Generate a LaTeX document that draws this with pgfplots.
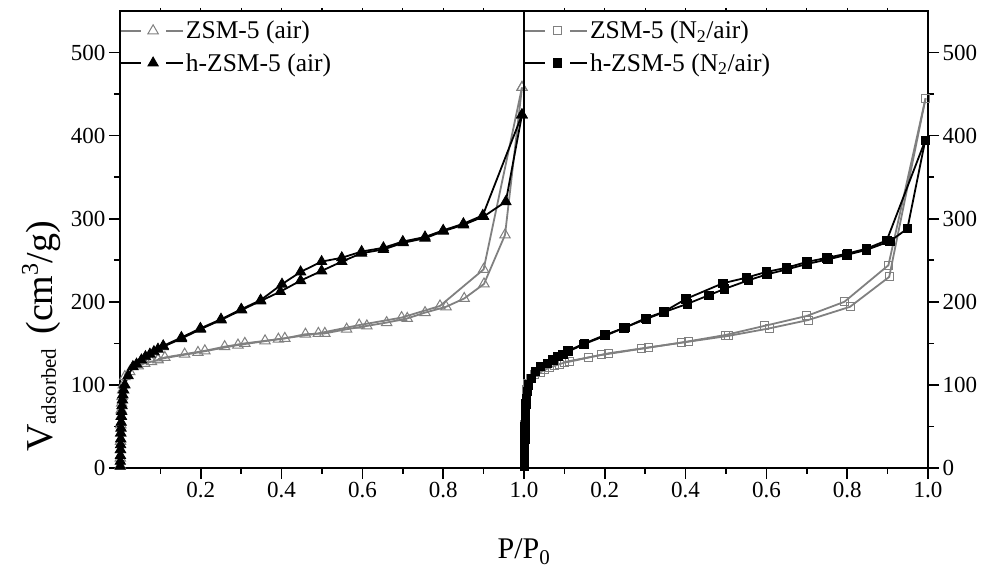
\documentclass[border=0pt]{standalone}
\usepackage{fontspec}
\setmainfont{Liberation Serif}
\usepackage{pgfplots}
\pgfplotsset{compat=1.18}
\definecolor{zgray}{RGB}{128,128,128}

\begin{document}
\begin{tikzpicture}[x=1pt,y=1pt]
\useasboundingbox (0,0) rectangle (989,572);
\pgfplotsset{
  myaxis/.style={
    scale only axis, width=404pt, height=457pt,
    anchor=south west,
    xmin=0, xmax=1, ymin=0, ymax=550,
    clip=false,
    axis line style={line width=2pt},
    every tick/.style={line width=1.6pt, black},
    tick align=outside,
    major tick length=11pt, minor tick length=6pt,
    xtick={0.2,0.4,0.6,0.8,1.0},
    minor xtick={0.1,0.3,0.5,0.7,0.9},
    ytick={0,100,200,300,400,500},
    minor ytick={50,150,250,350,450},
    /pgf/number format/assume math mode=true,
    tick label style={font=\fontsize{23}{27}\selectfont},
    x tick label style={/pgf/number format/.cd, fixed, fixed zerofill, precision=1},
    y tick label style={/pgf/number format/.cd, fixed, precision=0},
    xtick pos=left,
    legend cell align=left,
    legend style={at={(0,1)}, anchor=north west, yshift=-6pt, draw=none, fill=none,
      inner xsep=0pt, inner ysep=2pt,
      font=\fontsize{25.5}{30}\selectfont, row sep=9pt},
    legend image code/.code={
      \draw[##1, mark=none] (0pt,0pt) -- (20pt,0pt) (45pt,0pt) -- (62pt,0pt);
      \draw[##1, only marks] plot coordinates {(32pt,0pt)};
    },
  },
  topticks/.style={
    scale only axis, width=404pt, height=457pt,
    anchor=south west,
    xmin=0, xmax=1, ymin=0, ymax=550,
    axis x line*=top, axis y line=none,
    axis line style={line width=2pt},
    xtick={0.1,0.2,0.3,0.4,0.5,0.6,0.7,0.8,0.9}, xticklabels={},
    every tick/.style={line width=1.2pt, black},
    tick align=outside, major tick length=3pt,
  },
  gs/.style={color=zgray, line width=1.8pt, mark options={solid, fill=white, draw=zgray, line width=1pt}},
  bs/.style={color=black, line width=1.8pt, mark options={solid, fill=black, draw=black, line width=0.8pt}},
}

% ---------------- left panel ----------------
\begin{axis}[topticks, at={(120pt,104pt)}]
\end{axis}
\begin{axis}[myaxis, at={(120pt,104pt)}, ytick pos=left]
% ZSM-5 (air) adsorption
\addplot[gs, mark=triangle, mark size=6pt] coordinates {
(0.0005,3)(0.0008,12)(0.001,22)(0.0013,32)(0.0016,42)(0.002,52)(0.0025,62)(0.003,70)(0.004,78)(0.005,86)(0.0065,94)(0.008,100)(0.012,110)
(0.024,116)(0.045,123)(0.061,126)(0.078,128)(0.094,130)(0.111,133)(0.16,137)(0.21,141)(0.259,146)(0.309,150)(0.359,153)(0.408,156)
(0.459,161)(0.507,162)(0.561,167)(0.611,171)(0.66,175)(0.711,180)(0.755,187)(0.807,194)(0.852,204)(0.901,221.5)(0.953,280.5)(0.995,458)};
\addlegendentry{ZSM-5 (air)}
% ZSM-5 (air) desorption
\addplot[gs, mark=triangle, mark size=6pt, forget plot] coordinates {
(0.995,458)(0.90,239)(0.792,195)(0.697,181)(0.592,172)(0.491,162)(0.392,155)(0.292,148)(0.193,139)(0.094,131)};
% h-ZSM-5 (air) adsorption
\addplot[bs, mark=triangle*, mark size=6pt] coordinates {
(0.0005,2)(0.0008,8)(0.001,15)(0.0012,22)(0.0015,28)(0.0018,35)(0.002,42)(0.0025,48)(0.003,55)(0.0035,62)(0.004,68)(0.005,75)(0.006,82)(0.007,88)(0.009,94)(0.012,100)
(0.02,111)(0.032,122)(0.041,125)(0.053,130)(0.063,134)(0.074,137)(0.084,140)(0.094,143)(0.107,146)(0.152,155.7)(0.199,167)(0.250,178.2)
(0.301,190.2)(0.348,201)(0.397,212.3)(0.447,225.5)(0.499,237.2)(0.549,248.4)(0.598,258.5)(0.652,263)(0.701,271)(0.755,276.5)(0.80,285)
(0.85,292.6)(0.90,302.6)(0.955,320.6)(0.995,425)};
\addlegendentry{h-ZSM-5 (air)}
% h-ZSM-5 (air) desorption
\addplot[bs, mark=triangle*, mark size=6pt, forget plot] coordinates {
(0.995,425)(0.898,304)(0.85,294)(0.80,286)(0.755,278)(0.70,272.5)(0.652,265)(0.598,260.5)(0.549,253)(0.499,248.4)(0.447,236)
(0.401,221.2)(0.348,202)(0.30,191)(0.25,179)(0.199,168)(0.152,157)(0.107,147)};
\end{axis}

% ---------------- right panel ----------------
\begin{axis}[topticks, at={(524pt,104pt)}]
\end{axis}
\begin{axis}[myaxis, at={(524pt,104pt)}, ytick pos=right, yticklabel pos=right]
% ZSM-5 (N2/air) adsorption
\addplot[gs, mark=square, mark size=4pt] coordinates {
(0.0005,3)(0.0008,12)(0.001,22)(0.0013,32)(0.0016,42)(0.002,52)(0.0025,62)(0.003,70)(0.004,78)(0.005,86)(0.0065,94)(0.009,102)(0.015,108)(0.025,112)
(0.04,115)(0.051,118)(0.064,121)(0.076,123)(0.088,125)(0.10,126.8)(0.113,128)(0.16,133)(0.209,138)(0.307,145)(0.407,152)(0.506,159)
(0.607,168)(0.703,178)(0.807,194)(0.904,230)(0.994,445)};
\addlegendentry{ZSM-5 (N\textsubscript{2}/air)}
% ZSM-5 (N2/air) desorption
\addplot[gs, mark=square, mark size=4pt, forget plot] coordinates {
(0.994,445)(0.902,244)(0.793,200)(0.70,183)(0.595,171)(0.498,160)(0.39,151)(0.292,143.6)(0.191,136)(0.10,127.5)};
% h-ZSM-5 (N2/air) adsorption
\addplot[bs, mark=square*, mark size=4.2pt] coordinates {
(0.0005,2)(0.0008,8)(0.001,15)(0.0012,22)(0.0015,28)(0.0018,35)(0.002,42)(0.0025,50)(0.003,57)(0.0035,64)(0.004,70)(0.005,77)(0.006,84)(0.008,92)(0.011,100)
(0.018,108)(0.028,116)(0.041,122)(0.058,126)(0.072,130)(0.084,134)(0.096,137)(0.109,140)(0.148,149)(0.202,159.3)(0.247,168.6)(0.303,179.4)
(0.346,187.5)(0.404,197.5)(0.458,208)(0.496,215.5)(0.556,226)(0.601,233)(0.651,239)(0.70,245.5)(0.752,251)(0.799,256.5)(0.848,262.5)
(0.906,273)(0.949,288)(0.993,394)};
\addlegendentry{h-ZSM-5 (N\textsubscript{2}/air)}
% h-ZSM-5 (N2/air) desorption
\addplot[bs, mark=square*, mark size=4.2pt, forget plot] coordinates {
(0.993,394)(0.898,274)(0.848,264)(0.80,258)(0.75,253)(0.70,248)(0.65,241)(0.60,236)(0.55,229)(0.492,222.3)(0.401,203.5)(0.346,188)
(0.30,180)(0.25,169)(0.20,160)(0.15,150)(0.109,141)};
\end{axis}

\node[anchor=base, font=\fontsize{30}{36}\selectfont] at (524,13) {P/P\textsubscript{0}};
\node[anchor=base west, rotate=90, inner sep=0pt, font=\fontsize{38}{44}\selectfont] at (52,120)
  {V\raisebox{-4pt}{\fontsize{21}{24}\selectfont adsorbed}\hspace{14pt}(cm\raisebox{14pt}{\fontsize{24}{28}\selectfont 3}/g)};
\end{tikzpicture}
\end{document}
